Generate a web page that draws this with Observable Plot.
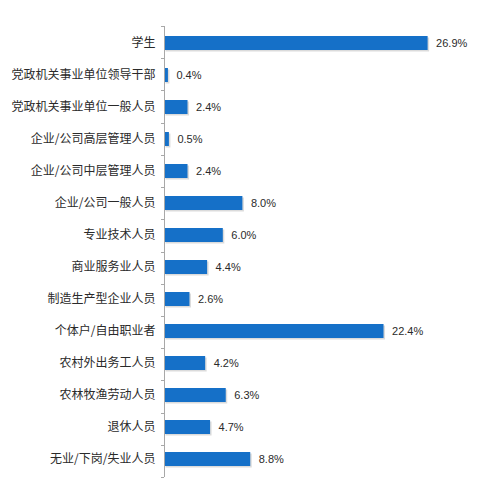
<!DOCTYPE html>
<html>
<head>
<meta charset="utf-8">
<script src="https://cdn.jsdelivr.net/npm/d3@7"></script>
<script src="https://cdn.jsdelivr.net/npm/@observablehq/plot@0.6"></script>
<style>
  html, body { margin: 0; padding: 0; background: #fff; }
  #chart { width: 480px; height: 480px; }
  #chart svg { display: block; }
</style>
</head>
<body>
<div id="chart"></div>
<script>
const categories = [
  "学生",
  "党政机关事业单位领导干部",
  "党政机关事业单位一般人员",
  "企业/公司高层管理人员",
  "企业/公司中层管理人员",
  "企业/公司一般人员",
  "专业技术人员",
  "商业服务业人员",
  "制造生产型企业人员",
  "个体户/自由职业者",
  "农村外出务工人员",
  "农林牧渔劳动人员",
  "退休人员",
  "无业/下岗/失业人员"
];
const values = [26.9, 0.4, 2.4, 0.5, 2.4, 8.0, 6.0, 4.4, 2.6, 22.4, 4.2, 6.3, 4.7, 8.8];

const data = categories.map((c, i) => ({ category: c, value: values[i] }));

const M = { left: 164, right: 22, top: 26, bottom: 3 };

const chart = Plot.plot({
  width: 480,
  height: 480,
  marginLeft: M.left,
  marginRight: M.right,
  marginTop: M.top,
  marginBottom: M.bottom,
  style: { fontFamily: "'Liberation Sans', 'Noto Sans CJK SC', sans-serif", fontSize: "12px", color: "#2a2a2a", background: "transparent" },
  x: { domain: [0, 30], axis: null },
  y: { domain: categories, paddingInner: 0.56, paddingOuter: 0.28, axis: null },
  marks: [
    // bar shadow
    Plot.barX(data, { x: "value", y: "category", fill: "#bdbdbd", fillOpacity: 0.55, dx: 1.5, dy: 1.5 }),
    Plot.barX(data, { x: "value", y: "category", fill: "#1570c8" }),
    Plot.axisY({
      anchor: "left",
      tickSize: 0,
      tickPadding: 9,
      label: null,
      fontSize: 12,
      fill: "#2a2a2a",
      fontFamily: "'Noto Sans CJK SC', sans-serif"
    }),
    Plot.text(data, {
      x: "value",
      y: "category",
      text: d => d.value.toFixed(1) + "%",
      textAnchor: "start",
      dx: 8,
      fontSize: 11,
      fill: "#2a2a2a",
      fontFamily: "'Liberation Sans', Arial, sans-serif"
    }),
    Plot.ruleX([0], { stroke: "#a8a8a8", strokeWidth: 1 }),
    // boundary tick marks between categories on the axis
    () => {
      const g = d3.create("svg:g").attr("stroke", "#a8a8a8");
      const h = 480 - M.top - M.bottom;
      const step = h / categories.length;
      d3.range(categories.length + 1).forEach(i => {
        const y = Math.round(M.top + i * step) + 0.5;
        g.append("line").attr("x1", M.left - 3).attr("x2", M.left).attr("y1", y).attr("y2", y);
      });
      return g.node();
    }
  ]
});
document.getElementById("chart").appendChild(chart);
</script>
</body>
</html>
